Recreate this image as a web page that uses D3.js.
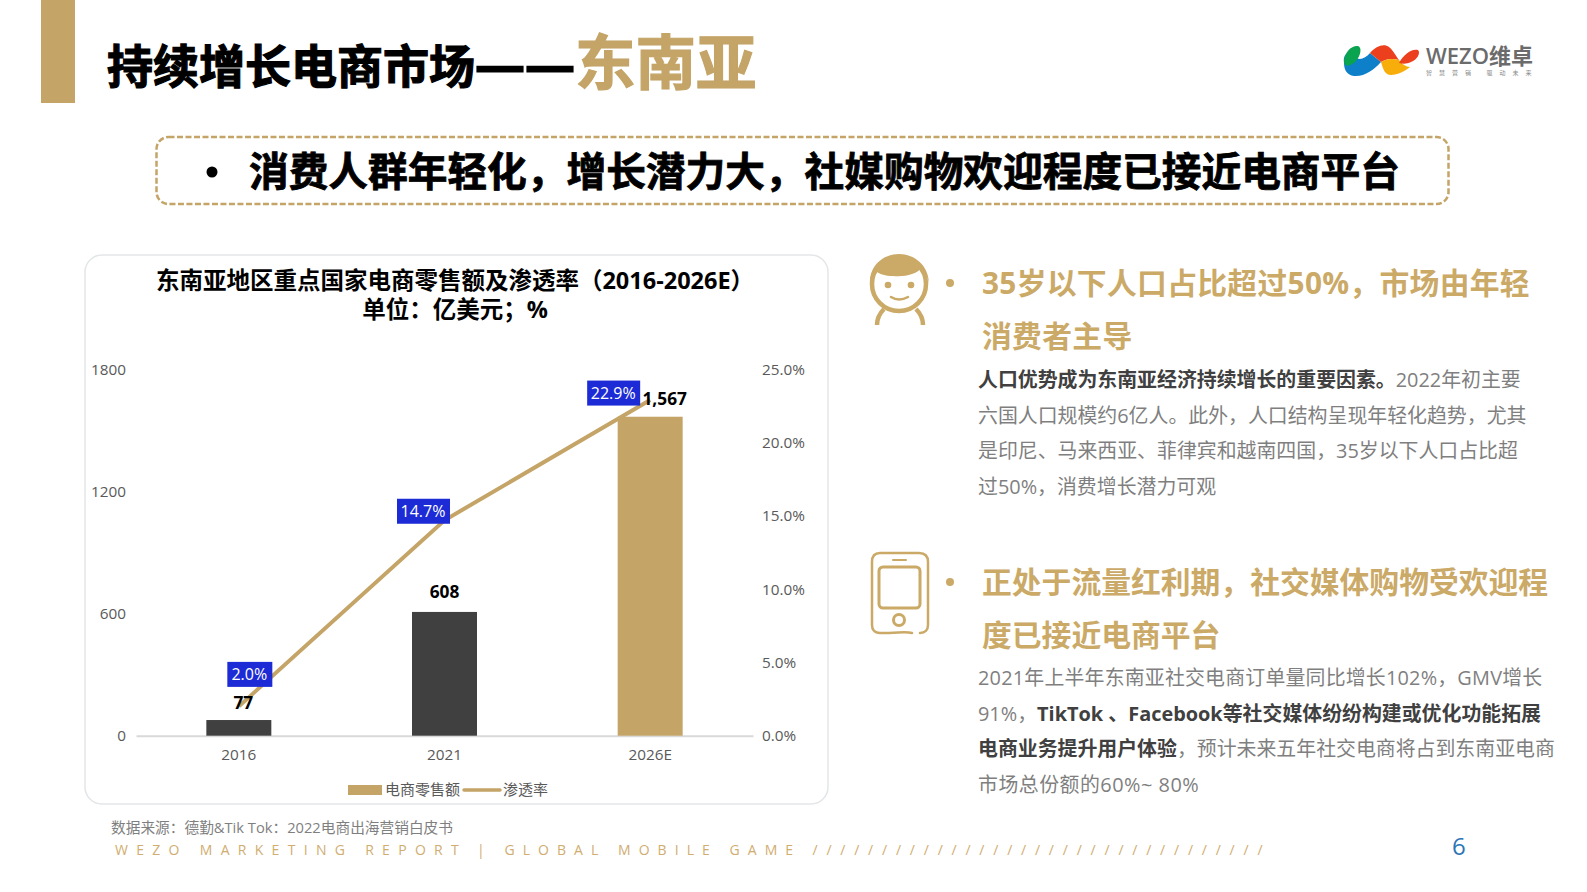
<!DOCTYPE html>
<html lang="zh">
<head>
<meta charset="utf-8">
<script src="https://cdn.jsdelivr.net/npm/d3@7"></script>
<style>
  html, body { margin: 0; padding: 0; background: #fff; overflow: hidden; }
  text { font-family: "Open Sans", "Noto Sans CJK SC", sans-serif; }
</style>
</head>
<body>
<div id="chart"></div>
<script>
const WIDTH = 1587;
const HEIGHT = 892;

const GOLD = "#c4a467";
const DARK = "#404040";
const GREY = "#7f7f7f";

// === DATA ===
const years = ["2016", "2021", "2026E"];
const sales = [77, 608, 1567];
const rate = [2.0, 14.7, 22.9];
const salesTicks = [0, 600, 1200, 1800];
const rateTicks = [0, 5, 10, 15, 20, 25];
const legendLabels = ["电商零售额", "渗透率"];

const chartTitle = ["东南亚地区重点国家电商零售额及渗透率（2016-2026E）", "单位：亿美元；%"];
const bannerText = "消费人群年轻化，增长潜力大，社媒购物欢迎程度已接近电商平台";
const heading1 = ["35岁以下人口占比超过50%，市场由年轻", "消费者主导"];
const heading2 = ["正处于流量红利期，社交媒体购物受欢迎程", "度已接近电商平台"];
// each line is a list of [text, isBold]
const body1 = [
    [["人口优势成为东南亚经济持续增长的重要因素。", true], ["2022年初主要", false]],
    [["六国人口规模约6亿人。此外，人口结构呈现年轻化趋势，尤其", false]],
    [["是印尼、马来西亚、菲律宾和越南四国，35岁以下人口占比超", false]],
    [["过50%，消费增长潜力可观", false]]
];
const body2 = [
    [["2021年上半年东南亚社交电商订单量同比增长102%，GMV增长", false]],
    [["91%，", false], ["TikTok 、Facebook等社交媒体纷纷构建或优化功能拓展", true]],
    [["电商业务提升用户体验", true], ["，预计未来五年社交电商将占到东南亚电商", false]],
    [["市场总份额的60%~ 80%", false]]
];

const svg = d3.select("#chart")
    .append("svg")
    .attr("width", WIDTH)
    .attr("height", HEIGHT)
    .style("display", "block");

// === HEADER ===
svg.append("rect")
    .attr("x", 41).attr("y", 0)
    .attr("width", 34).attr("height", 103)
    .attr("fill", GOLD);

const title = svg.append("text")
    .attr("x", 107).attr("y", 83)
    .attr("font-weight", 700)
    .attr("stroke-width", 1.2)
    .attr("font-size", 46);
title.append("tspan").attr("fill", "#000").attr("stroke", "#000").text("持续增长电商市场");
title.append("tspan").attr("fill", "#000").attr("stroke", "#000").attr("font-size", 50).text("——");
title.append("tspan").attr("fill", GOLD).attr("stroke", GOLD).attr("font-size", 60.5).attr("dy", 2).text("东南亚");

// === LOGO ===
const logo = svg.append("g");
logo.append("path").attr("fill", "#0e7fc9")
    .attr("d", "M1344 63 C1343 56 1346 53 1350 52 C1356 62 1364 60 1370 53 L1381 62 C1374 70 1364 77 1354 76 C1347 75 1344 70 1344 63 Z");
logo.append("path").attr("fill", "#0aa350")
    .attr("d", "M1344 62 C1344 52 1352 45 1358 46 C1362 47 1361 55 1356 61 C1351 66 1345 68 1344 62 Z");
logo.append("path").attr("fill", "#ec3f1e")
    .attr("d", "M1370 53 C1376 46 1384 43 1389 47 C1393 50 1396 56 1399 60 C1392 58 1386 59 1381 62 Z");
logo.append("path").attr("fill", "#f7ae0b")
    .attr("d", "M1381 62 C1386 59 1392 58 1399 60 C1402 64 1406 67 1410 67 C1405 71 1398 75 1391 75 C1385 75 1383 69 1381 62 Z");
logo.append("path").attr("fill", "#ec3f1e")
    .attr("d", "M1399 63 C1403 55 1412 48 1418 50 C1421 53 1417 60 1411 62 C1407 64 1403 64 1399 63 Z");
logo.append("text")
    .attr("x", 1426).attr("y", 64)
    .attr("fill", "#6b6b6b").attr("font-size", 22).attr("font-weight", 600)
    .text("WEZO维卓");
logo.append("text")
    .attr("x", 1426).attr("y", 75)
    .attr("fill", "#8a8a8a").attr("font-size", 6).attr("letter-spacing", 7)
    .text("智慧营销 驱动未来");

// === BANNER ===
svg.append("rect")
    .attr("x", 156.5).attr("y", 137)
    .attr("width", 1292).attr("height", 67)
    .attr("rx", 12)
    .attr("fill", "none")
    .attr("stroke", GOLD)
    .attr("stroke-width", 2.5)
    .attr("stroke-dasharray", "6 2.5");
svg.append("circle").attr("cx", 212).attr("cy", 172).attr("r", 5.5).attr("fill", "#000");
svg.append("text")
    .attr("x", 249).attr("y", 186)
    .attr("font-size", 39.7).attr("font-weight", 700)
    .attr("fill", "#000").attr("stroke", "#000").attr("stroke-width", 0.8)
    .text(bannerText);

// === CHART CARD ===
svg.append("rect")
    .attr("x", 85).attr("y", 255)
    .attr("width", 743).attr("height", 549)
    .attr("rx", 17)
    .attr("fill", "#fff")
    .attr("stroke", "#e3e6e8")
    .attr("stroke-width", 1.5);

chartTitle.forEach((t, i) => {
    svg.append("text")
        .attr("x", 455).attr("y", 289 + i * 28.5)
        .attr("text-anchor", "middle")
        .attr("font-size", 23.5).attr("font-weight", 700)
        .attr("fill", "#000")
        .text(t);
});

const PLOT = { left: 136, right: 753, top: 369.3, bottom: 735.7 };

const x = d3.scaleBand()
    .domain(years)
    .range([PLOT.left, PLOT.right])
    .paddingInner(0.684)
    .paddingOuter(0.342);
const ySales = d3.scaleLinear().domain([0, 1800]).range([PLOT.bottom, PLOT.top]);
const yRate = d3.scaleLinear().domain([0, 25]).range([PLOT.bottom, PLOT.top]);

function styleAxis(g) {
    g.selectAll("text").attr("fill", "#595959").attr("font-size", 15.3);
}

svg.append("g")
    .attr("transform", `translate(${PLOT.left - 10},0)`)
    .call(d3.axisLeft(ySales).tickValues(salesTicks).tickSize(0).tickPadding(0).tickFormat(d3.format("d")))
    .call(g => g.select(".domain").remove())
    .call(styleAxis);

svg.append("g")
    .attr("transform", `translate(${PLOT.right + 9},0)`)
    .call(d3.axisRight(yRate).tickValues(rateTicks).tickSize(0).tickPadding(0).tickFormat(d => d.toFixed(1) + "%"))
    .call(g => g.select(".domain").remove())
    .call(styleAxis);

svg.append("g")
    .attr("transform", `translate(0,${PLOT.bottom})`)
    .call(d3.axisBottom(x).tickSize(0).tickPadding(13))
    .call(g => g.select(".domain").attr("stroke", "#d9d9d9").attr("stroke-width", 2))
    .call(styleAxis);

// bars
svg.selectAll(".bar")
    .data(years)
    .enter()
    .append("rect")
    .attr("class", "bar")
    .attr("x", d => x(d))
    .attr("y", (d, i) => ySales(sales[i]))
    .attr("width", x.bandwidth())
    .attr("height", (d, i) => PLOT.bottom - ySales(sales[i]))
    .attr("fill", (d, i) => i === 2 ? GOLD : DARK);

// line
const center = d => x(d) + x.bandwidth() / 2;
const line = d3.line()
    .x(d => center(d))
    .y((d, i) => yRate(rate[i]));
svg.append("path")
    .datum(years)
    .attr("d", line)
    .attr("fill", "none")
    .attr("stroke", GOLD)
    .attr("stroke-width", 4);

// bar value labels, nudged off their bars like the original
const valueNudge = [[4.5, -17], [0, -20], [14.5, -17.5]];
svg.selectAll(".value")
    .data(years)
    .enter()
    .append("text")
    .attr("class", "value")
    .attr("x", (d, i) => center(d) + valueNudge[i][0])
    .attr("y", (d, i) => ySales(sales[i]) + valueNudge[i][1])
    .attr("dy", "0.35em")
    .attr("text-anchor", "middle")
    .attr("font-size", 17.3).attr("font-weight", 700)
    .attr("fill", "#000")
    .text((d, i) => d3.format(",")(sales[i]));

// rate labels in blue boxes
const rateNudge = [[11, -32], [-21, -9], [-36.5, -7]];
const rateBoxW = [45, 53, 53];
const rateLabels = svg.selectAll(".rate")
    .data(years)
    .enter()
    .append("g")
    .attr("class", "rate")
    .attr("transform", (d, i) => `translate(${center(d) + rateNudge[i][0]},${yRate(rate[i]) + rateNudge[i][1]})`);
rateLabels.append("rect")
    .attr("x", (d, i) => -rateBoxW[i] / 2)
    .attr("y", -12.5)
    .attr("width", (d, i) => rateBoxW[i])
    .attr("height", 25)
    .attr("fill", "#1c2bd6");
rateLabels.append("text")
    .attr("x", -0.5)
    .attr("text-anchor", "middle")
    .attr("dy", "0.35em")
    .attr("font-size", 16)
    .attr("fill", "#fff")
    .text((d, i) => rate[i].toFixed(1) + "%");

// legend
svg.append("rect").attr("x", 348).attr("y", 785).attr("width", 34).attr("height", 10).attr("fill", GOLD);
svg.append("text").attr("x", 385).attr("y", 794.5).attr("font-size", 15).attr("fill", "#595959").text(legendLabels[0]);
svg.append("line").attr("x1", 464).attr("x2", 500).attr("y1", 790).attr("y2", 790)
    .attr("stroke", GOLD).attr("stroke-width", 3.5).attr("stroke-linecap", "round");
svg.append("text").attr("x", 503).attr("y", 794.5).attr("font-size", 15).attr("fill", "#595959").text(legendLabels[1]);

// === RIGHT COLUMN ===
function drawHeading(lines, y, spacing) {
    lines.forEach((t, i) => {
        svg.append("text")
            .attr("x", 982).attr("y", y + i * 53)
            .attr("font-size", 29.8).attr("font-weight", 700)
            .attr("letter-spacing", spacing)
            .attr("fill", "#cba967")
            .text(t);
    });
}

function drawBody(lines, y, spacing) {
    lines.forEach((parts, i) => {
        const t = svg.append("text")
            .attr("x", 978).attr("y", y + i * 35.5)
            .attr("font-size", 19.9)
            .attr("letter-spacing", spacing[i]);
        parts.forEach(([s, bold]) => {
            t.append("tspan")
                .attr("font-weight", bold ? 700 : 400)
                .attr("fill", bold ? DARK : GREY)
                .text(s);
        });
    });
}

svg.append("circle").attr("cx", 950).attr("cy", 283).attr("r", 4).attr("fill", "#cba967");
svg.append("circle").attr("cx", 950).attr("cy", 582).attr("r", 4).attr("fill", "#cba967");
drawHeading(heading1, 294, 0.3);
drawHeading(heading2, 593, 0);
drawBody(body1, 387, [0, 0, 0, 0]);
drawBody(body2, 685, [0.2, 0, 0, 0.5]);

// person icon
const person = svg.append("g").attr("fill", "none").attr("stroke", "#cba967");
person.append("circle").attr("cx", 899).attr("cy", 284).attr("r", 27).attr("stroke-width", 4.5);
person.append("path").attr("fill", "#cba967").attr("stroke", "none")
    .attr("d", "M870 284 C869 266 883 254 899 254 C915 254 929 266 929 284 C928 278 926 273 922 268 C916 274 906 277 893 276 C885 276 880 274 877 272 C873 275 871 279 870 284 Z");
person.append("circle").attr("cx", 888).attr("cy", 285).attr("r", 3.3).attr("fill", "#cba967").attr("stroke", "none");
person.append("circle").attr("cx", 911).attr("cy", 285).attr("r", 3.3).attr("fill", "#cba967").attr("stroke", "none");
person.append("path").attr("stroke-width", 2.5).attr("stroke-linecap", "round").attr("d", "M891 297 Q899 302 908 297");
person.append("path").attr("stroke-width", 4.5).attr("d", "M877 325 C877 318 880 313 884 309 M923 325 C923 318 920 313 916 309");

// phone icon
const phone = svg.append("g").attr("fill", "none").attr("stroke", "#cba967").attr("stroke-linecap", "round").attr("transform", "translate(0,1)");
phone.append("path").attr("stroke-width", 2.5)
    .attr("d", "M912 632 C905 630 900 632 880 632 C874 632 872 628 872 624 L872 561 C872 555 875 552 880 552 L919 552 C925 552 928 555 928 561 L928 624 C928 629 925 632 920 632");
phone.append("line").attr("stroke-width", 2).attr("x1", 893).attr("x2", 906).attr("y1", 559).attr("y2", 559);
phone.append("rect").attr("stroke-width", 3).attr("x", 879).attr("y", 566).attr("width", 41).attr("height", 41).attr("rx", 4);
phone.append("circle").attr("stroke-width", 3).attr("cx", 899).attr("cy", 619).attr("r", 5.5);

// === FOOTER ===
svg.append("text")
    .attr("x", 111).attr("y", 833)
    .attr("font-size", 14.7).attr("fill", GREY)
    .text("数据来源：德勤&Tik Tok：2022电商出海营销白皮书");

const footer = svg.append("g")
    .attr("font-size", 14)
    .attr("fill", "#d0ad70");
footer.append("text").attr("x", 115).attr("y", 855).attr("letter-spacing", 8.3)
    .text("WEZO MARKETING REPORT");
footer.append("text").attr("x", 477).attr("y", 855).attr("letter-spacing", 8.05)
    .text("| GLOBAL MOBILE GAME");
footer.append("text").attr("x", 812.5).attr("y", 855).attr("letter-spacing", 8.77)
    .text("/////////////////////////////////");

svg.append("text")
    .attr("x", 1452).attr("y", 855)
    .attr("font-size", 24).attr("fill", "#2e75b6")
    .text("6");
</script>
</body>
</html>
